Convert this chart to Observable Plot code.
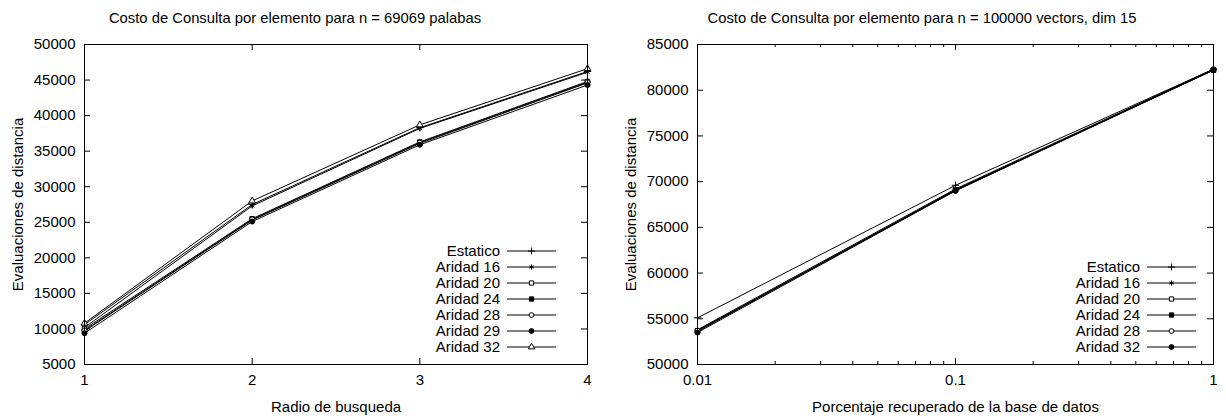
<!DOCTYPE html>
<html><head><meta charset="utf-8">
<script src="https://cdn.jsdelivr.net/npm/d3@7"></script>
<script src="https://cdn.jsdelivr.net/npm/@observablehq/plot@0.6"></script>
<style>
body{margin:0;background:#fff;font-family:"Liberation Sans",Arial,sans-serif;}
#wrap{position:relative;width:1226px;height:418px;overflow:hidden;background:#fff;}
.title{position:absolute;top:10px;font-size:14.8px;line-height:16px;transform:translateX(-50%);white-space:nowrap;color:#000;}
.chart{position:absolute;top:30px;}
.legend{position:absolute;left:0;top:0;}
</style></head><body><div id="wrap"></div>
<script>
// ---------- Left chart data ----------
const leftTitle = "Costo de Consulta por elemento para n = 69069 palabas";
const leftXLabel = "Radio de busqueda";
const leftYLabel = "Evaluaciones de distancia";
const leftX = [1, 2, 3, 4];
const leftSeries = ["Estatico", "Aridad 16", "Aridad 20", "Aridad 24", "Aridad 28", "Aridad 29", "Aridad 32"];
const leftEstatico = [10600, 27500, 38300, 46200];
const leftAridad16 = [10200, 27300, 38200, 46100];
const leftAridad20 = [10000, 25500, 36300, 44800];
const leftAridad24 = [9700, 25300, 36100, 44600];
const leftAridad28 = [9800, 25400, 36200, 44700];
const leftAridad29 = [9400, 25100, 35900, 44300];
const leftAridad32 = [10800, 28000, 38700, 46600];
const leftXTicks = [1, 2, 3, 4];
const leftYTicks = [5000, 10000, 15000, 20000, 25000, 30000, 35000, 40000, 45000, 50000];

// ---------- Right chart data ----------
const rightTitle = "Costo de Consulta por elemento para n = 100000 vectors, dim 15";
const rightXLabel = "Porcentaje recuperado de la base de datos";
const rightYLabel = "Evaluaciones de distancia";
const rightX = [0.01, 0.1, 1];
const rightSeries = ["Estatico", "Aridad 16", "Aridad 20", "Aridad 24", "Aridad 28", "Aridad 32"];
const rightEstatico = [55100, 69600, 82300];
const rightAridad16 = [53800, 69200, 82300];
const rightAridad20 = [53700, 69100, 82200];
const rightAridad24 = [53600, 69100, 82200];
const rightAridad28 = [53700, 69000, 82300];
const rightAridad32 = [53500, 69000, 82200];
const rightXTicks = [0.01, 0.1, 1];
const rightXMinor = [0.02,0.03,0.04,0.05,0.06,0.07,0.08,0.09,0.2,0.3,0.4,0.5,0.6,0.7,0.8,0.9];
const rightYTicks = [50000, 55000, 60000, 65000, 70000, 75000, 80000, 85000];

// marker styles (gnuplot point types in order)
const markerSymbols = [d3.symbolPlus, d3.symbolAsterisk, d3.symbolSquare, d3.symbolSquare, d3.symbolCircle, d3.symbolCircle, d3.symbolTriangle];
const markerFills = ["black", "black", "white", "black", "white", "black", "white"];
const leftMarkerIdx = [0, 1, 2, 3, 4, 5, 6];
const rightMarkerIdx = [0, 1, 2, 3, 4, 5];

const FONT = "'Liberation Sans', Arial, sans-serif";

function buildRows(xs, names, arrays) {
  const rows = [];
  names.forEach((n, i) => xs.forEach((x, j) => rows.push({series: n, x, y: arrays[i][j]})));
  return rows;
}

const leftRows = buildRows(leftX, leftSeries, [leftEstatico, leftAridad16, leftAridad20, leftAridad24, leftAridad28, leftAridad29, leftAridad32]);
const rightRows = buildRows(rightX, rightSeries, [rightEstatico, rightAridad16, rightAridad20, rightAridad24, rightAridad28, rightAridad32]);

function makeChart(opts) {
  const {rows, series, mIdx, xScale, yDomain, xTicks, xMinor, yTicks, xLabel, yLabel, marginLeft, marginRight, xFormat} = opts;
  const width = 613, height = 388, marginTop = 14, marginBottom = 54;
  const pw = width - marginLeft - marginRight, ph = height - marginTop - marginBottom;
  const fillMap = new Map(series.map((s, i) => [s, markerFills[mIdx[i]]]));
  const marks = [
    Plot.axisX(xTicks, {tickSize: 0, tickPadding: 10, tickFormat: xFormat, label: xLabel, labelAnchor: "center", labelArrow: "none", labelOffset: 47}),
    Plot.axisY(yTicks, {tickSize: 0, tickPadding: 9, tickFormat: d => String(d), label: yLabel, labelAnchor: "center", labelArrow: "none", labelOffset: 72}),
    Plot.tickX(xTicks, {x: d => d, insetTop: ph - 6, stroke: "black"}),
    Plot.tickX(xTicks, {x: d => d, insetBottom: ph - 6, stroke: "black"}),
    Plot.tickY(yTicks, {y: d => d, insetRight: pw - 6, stroke: "black"}),
    Plot.tickY(yTicks, {y: d => d, insetLeft: pw - 6, stroke: "black"}),
  ];
  if (xMinor) {
    marks.push(Plot.tickX(xMinor, {x: d => d, insetTop: ph - 3, stroke: "black"}));
    marks.push(Plot.tickX(xMinor, {x: d => d, insetBottom: ph - 3, stroke: "black"}));
  }
  marks.push(
    Plot.line(rows, {x: "x", y: "y", z: "series", stroke: "black", strokeWidth: 1}),
    Plot.dot(rows, {x: "x", y: "y", symbol: "series", fill: d => fillMap.get(d.series), stroke: "black", strokeWidth: 1, r: 2.5}),
    Plot.frame({stroke: "black", strokeWidth: 1})
  );
  return Plot.plot({
    width, height, marginLeft, marginRight, marginTop, marginBottom,
    style: {fontFamily: FONT, fontSize: "15px", color: "black", background: "white"},
    x: xScale,
    y: {domain: yDomain},
    symbol: {domain: series, range: mIdx.map(i => markerSymbols[i])},
    marks
  });
}

const wrap = document.getElementById("wrap");

function addTitle(text, cx) {
  const d = document.createElement("div");
  d.className = "title"; d.textContent = text; d.style.left = cx + "px";
  wrap.appendChild(d);
}

const leftChart = makeChart({
  rows: leftRows, series: leftSeries, mIdx: leftMarkerIdx,
  xScale: {type: "linear", domain: [1, 4]}, yDomain: [5000, 50000],
  xTicks: leftXTicks, yTicks: leftYTicks, xLabel: leftXLabel, yLabel: leftYLabel,
  marginLeft: 84, marginRight: 26, xFormat: d => String(d)
});
leftChart.classList.add("chart"); leftChart.style.left = "0px";
wrap.appendChild(leftChart);

const rightChart = makeChart({
  rows: rightRows, series: rightSeries, mIdx: rightMarkerIdx,
  xScale: {type: "log", domain: [0.01, 1]}, yDomain: [50000, 85000],
  xTicks: rightXTicks, xMinor: rightXMinor, yTicks: rightYTicks, xLabel: rightXLabel, yLabel: rightYLabel,
  marginLeft: 84, marginRight: 13, xFormat: d => String(d)
});
rightChart.classList.add("chart"); rightChart.style.left = "613px";
wrap.appendChild(rightChart);

addTitle(leftTitle, 295);
addTitle(rightTitle, 922);

// legends
function addLegend(series, mIdx, textRight, lastRowY) {
  const svg = d3.select(wrap).append("svg").attr("class", "legend")
    .attr("width", 1226).attr("height", 418)
    .style("font-family", FONT).style("font-size", "15px");
  const n = series.length;
  series.forEach((s, i) => {
    const y = lastRowY - (n - 1 - i) * 16;
    svg.append("text").attr("x", textRight).attr("y", y).attr("dy", "0.35em")
      .attr("text-anchor", "end").attr("fill", "black").text(s);
    svg.append("line").attr("x1", textRight + 7).attr("x2", textRight + 56)
      .attr("y1", y).attr("y2", y).attr("stroke", "black");
    svg.append("path").attr("transform", `translate(${textRight + 31.5},${y})`)
      .attr("d", d3.symbol(markerSymbols[mIdx[i]], 18)())
      .attr("fill", markerFills[mIdx[i]]).attr("stroke", "black");
  });
}
addLegend(leftSeries, leftMarkerIdx, 500, 347);
addLegend(rightSeries, rightMarkerIdx, 1140, 347);
</script></body></html>
